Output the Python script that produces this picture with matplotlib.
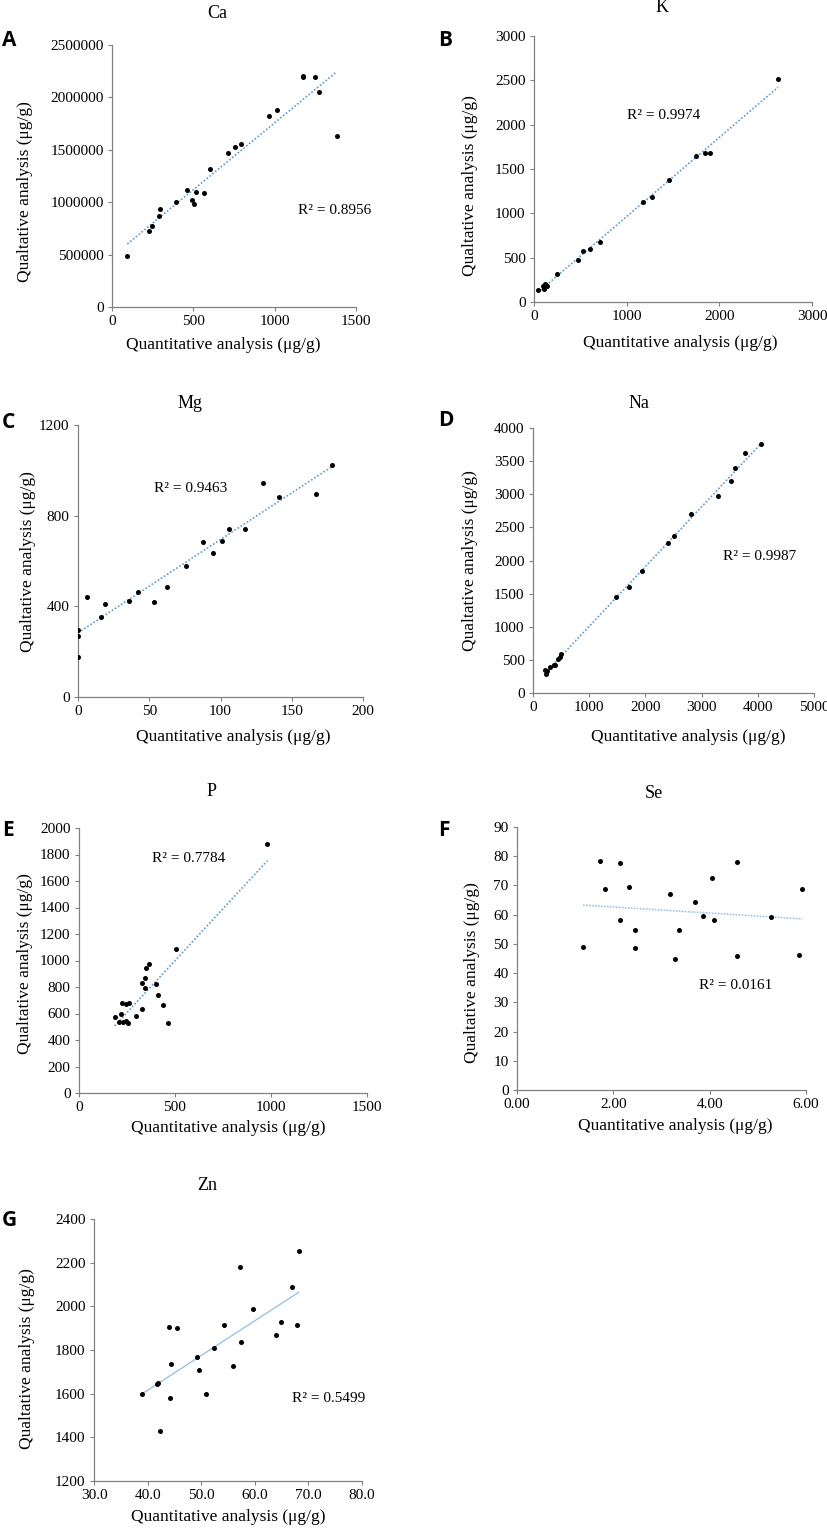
import numpy as np
import matplotlib
matplotlib.use("Agg")
import matplotlib.pyplot as plt

plt.rcParams['font.family'] = ['Liberation Serif', 'DejaVu Serif']

# ---- data ----
ca_x = [94, 227, 248, 289, 295, 393, 461, 490, 506, 514, 566, 605, 713, 758, 795, 967, 1012, 1172, 1172, 1248, 1273, 1381]
ca_y = [490000, 726000, 774000, 869000, 939000, 1003000, 1121000, 1025000, 984000, 1102000, 1092000, 1315000,
        1468000, 1522000, 1551000, 1822000, 1882000, 2191000, 2204000, 2194000, 2054000, 1631000]

k_x = [40, 95, 105, 115, 125, 140, 244, 478, 528, 604, 715, 1179, 1276, 1462, 1753, 1840, 1901, 2634]
k_y = [132, 180, 150, 200, 190, 175, 320, 470, 576, 595, 674, 1125, 1182, 1381, 1648, 1675, 1686, 2518]

mg_x = [0, 0, 0, 6.1, 15.9, 18.7, 36, 42.4, 53.2, 62.3, 75.6, 87.8, 94.8, 100.9, 105.9, 116.9, 129.7, 141, 167.2, 178]
mg_y = [294, 270, 176, 441, 354, 411, 423, 464, 419, 486, 580, 686, 637, 689, 740, 743, 944, 881, 896, 1025]

na_x = [214, 226, 256, 309, 375, 392, 440, 476, 505, 1468, 1706, 1944, 2396, 2515, 2812, 3288, 3520, 3603, 3769, 4061]
na_y = [351, 291, 336, 391, 417, 427, 512, 537, 582, 1455, 1606, 1837, 2258, 2374, 2695, 2971, 3197, 3403, 3619, 3754]

p_x = [186, 208, 217, 226, 231, 243, 247, 255, 262, 299, 326, 330, 342, 344, 351, 365, 403, 411, 438, 464, 507, 981]
p_y = [575, 537, 593, 683, 537, 540, 673, 525, 683, 583, 633, 832, 794, 870, 941, 974, 825, 739, 666, 532, 1087, 1879]

se_x = [1.37, 1.73, 1.83, 2.14, 2.14, 2.32, 2.44, 2.45, 3.18, 3.28, 3.37, 3.69, 3.87, 4.05, 4.10, 4.56, 4.56, 5.27, 5.86, 5.92]
se_y = [48.8, 78.3, 68.8, 77.6, 58.1, 69.4, 54.7, 48.6, 67.1, 44.9, 54.6, 64.3, 59.4, 72.7, 58.3, 77.9, 45.7, 59.2, 46.1, 68.8]

zn_x = [38.9, 41.8, 42.0, 42.3, 43.9, 44.2, 44.3, 45.5, 49.3, 49.5, 50.9, 52.3, 54.3, 55.9, 57.3, 57.5, 59.6, 64.0, 64.8, 66.9, 67.9, 68.2]
zn_y = [1597, 1643, 1650, 1427, 1904, 1582, 1734, 1899, 1766, 1707, 1598, 1808, 1916, 1728, 2180, 1835, 1986, 1870, 1928, 2090, 1916, 2255]

W, H = 827, 1529
fig = plt.figure(figsize=(W / 100, H / 100), dpi=100)


def px_axes(left, top, right, bottom):
    return fig.add_axes([left / W, 1 - bottom / H, (right - left) / W, (bottom - top) / H])


def ftext(x, y, s, **kw):
    fig.text(x / W, 1 - y / H, s, **kw)


# panel: letter, title, data, axis ranges, ticks, pixel box, text spots
panels = [
    dict(letter='A', title='Ca', x=ca_x, y=ca_y, xlim=(0, 1500), ylim=(0, 2500000),
         xt=[0, 500, 1000, 1500], yt=np.arange(0, 2500001, 500000), xfmt='{:.0f}',
         box=(112, 45, 356, 307), r2='R² = 0.8956', r2pos=(1371, 917000),
         letpos=(2, 40), tpos=(217, 13), xlpos=(223, 345), ylpos=(25, 192), line='dot'),
    dict(letter='B', title='K', x=k_x, y=k_y, xlim=(0, 3000), ylim=(0, 3000),
         xt=[0, 1000, 2000, 3000], yt=np.arange(0, 3001, 500), xfmt='{:.0f}',
         box=(534, 36, 812, 302), r2='R² = 0.9974', r2pos=(1394, 2108),
         letpos=(438, 40), tpos=(662, 7), xlpos=(680, 343), ylpos=(470, 186), line='dot'),
    dict(letter='C', title='Mg', x=mg_x, y=mg_y, xlim=(0, 200), ylim=(0, 1200),
         xt=[0, 50, 100, 150, 200], yt=[0, 400, 800, 1200], xfmt='{:.0f}',
         box=(78, 425, 363, 697), r2='R² = 0.9463', r2pos=(78.7, 921),
         letpos=(2, 422), tpos=(190, 403), xlpos=(233, 737), ylpos=(28, 562), line='dot'),
    dict(letter='D', title='Na', x=na_x, y=na_y, xlim=(0, 5000), ylim=(0, 4000),
         xt=np.arange(0, 5001, 1000), yt=np.arange(0, 4001, 500), xfmt='{:.0f}',
         box=(533, 428, 814, 693), r2='R² = 0.9987', r2pos=(4031, 2058),
         letpos=(438, 420), tpos=(639, 403), xlpos=(688, 737), ylpos=(470, 561), line='dot'),
    dict(letter='E', title='P', x=p_x, y=p_y, xlim=(0, 1500), ylim=(0, 2000),
         xt=[0, 500, 1000, 1500], yt=np.arange(0, 2001, 200), xfmt='{:.0f}',
         box=(79, 828, 367, 1093), r2='R² = 0.7784', r2pos=(573, 1768),
         letpos=(2, 830), tpos=(212, 792), xlpos=(228, 1128), ylpos=(25, 964), line='dot'),
    dict(letter='F', title='Se', x=se_x, y=se_y, xlim=(0, 6), ylim=(0, 90),
         xt=[0, 2, 4, 6], yt=np.arange(0, 91, 10), xfmt='{:.2f}',
         box=(517, 827, 806, 1090), r2='R² = 0.0161', r2pos=(4.53, 35.7),
         letpos=(438, 830), tpos=(654, 793), xlpos=(675, 1126), ylpos=(472, 973), line='dotlight'),
    dict(letter='G', title='Zn', x=zn_x, y=zn_y, xlim=(30, 80), ylim=(1200, 2400),
         xt=np.arange(30, 81, 10), yt=np.arange(1200, 2401, 200), xfmt='{:.1f}',
         box=(94, 1219, 362, 1481), r2='R² = 0.5499', r2pos=(73.8, 1580),
         letpos=(2, 1220), tpos=(207, 1185), xlpos=(228, 1517), ylpos=(27, 1359), line='solid'),
]

for p in panels:
    ax = px_axes(*p['box'])
    ax.scatter(p['x'], p['y'], s=13, color='black', zorder=3, linewidths=0)

    # linear trendline across the data range
    xs = np.array(p['x'], dtype=float)
    slope, inter = np.polyfit(xs, np.array(p['y'], dtype=float), 1)
    lx = np.array([xs.min(), xs.max()])
    if p['line'] == 'dot':
        ax.plot(lx, slope * lx + inter, color='#5b9bd5', lw=1.2, ls=(0, (1, 1.2)), zorder=2)
    elif p['line'] == 'dotlight':
        ax.plot(lx, slope * lx + inter, color='#9dc3e6', lw=1.2, ls=(0, (1, 0.8)), zorder=2)
    else:
        ax.plot(lx, slope * lx + inter, color='#9dc3e6', lw=1.0, zorder=2)

    ax.set_xlim(*p['xlim'])
    ax.set_ylim(*p['ylim'])
    ax.set_xticks(p['xt'])
    ax.set_xticklabels([p['xfmt'].format(v) for v in p['xt']])
    ax.set_yticks(p['yt'])
    ax.set_yticklabels(['{:.0f}'.format(v) for v in p['yt']])

    for side in ['top', 'right']:
        ax.spines[side].set_visible(False)
    for side in ['left', 'bottom']:
        ax.spines[side].set_color('#808080')
        ax.spines[side].set_linewidth(0.9)
    ax.tick_params(direction='out', length=3, width=0.8, color='#808080',
                   labelsize=11, labelcolor='black', pad=3)

    ax.text(p['r2pos'][0], p['r2pos'][1], p['r2'], fontsize=11, ha='center', va='center')

    ftext(p['letpos'][0], p['letpos'][1], p['letter'], fontsize=15, fontweight='bold',
          family=['Open Sans', 'DejaVu Sans'], ha='left', va='center')
    ftext(p['tpos'][0], p['tpos'][1], p['title'], fontsize=13, ha='center', va='center')
    ftext(p['xlpos'][0], p['xlpos'][1], 'Quantitative analysis (μg/g)', fontsize=12.5,
          ha='center', va='center')
    ftext(p['ylpos'][0], p['ylpos'][1], 'Qualtative analysis (μg/g)', fontsize=12.5,
          ha='center', va='center', rotation=90)

fig.savefig('out.png', dpi=100)
